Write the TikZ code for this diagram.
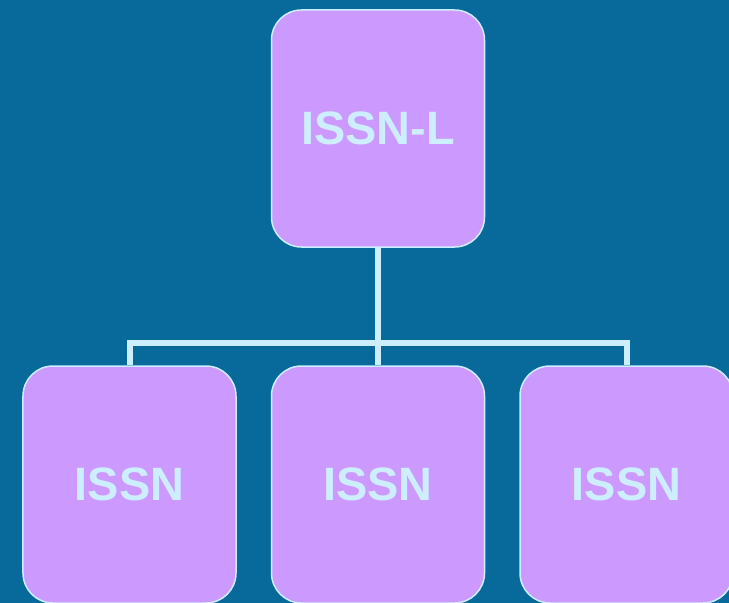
\documentclass[tikz,border=0pt]{standalone}
\usepackage{fontspec}
\setmainfont{Liberation Sans}
\usetikzlibrary{positioning, backgrounds, calc}
\definecolor{bgblue}{HTML}{076A9A}
\definecolor{boxpurple}{HTML}{CC99FF}
\definecolor{paleblue}{HTML}{CCEEFF}
\tikzset{%
  block/.style    = {draw = paleblue, line width = 1.5bp, fill = boxpurple,
    rectangle, rounded corners = 30bp, inner sep = 0pt,
    minimum width = 213bp, minimum height = 237bp,
    text = paleblue, font = \fontsize{47}{47}\selectfont\bfseries},
  link/.style     = {draw = paleblue, line width = 6bp} % Connector
}

\begin{document}
\begin{tikzpicture}[x = 1bp, y = -1bp]
\useasboundingbox[fill = bgblue] (0,0) rectangle (729,603);
%blocks
\draw
	(378,128.5) node [block] (issnl) {ISSN-L}
	(129.5,484.5) node [block] (issn1) {ISSN}
	(378,484.5) node [block] (issn2) {ISSN}
	(626.5,484.5) node [block] (issn3) {ISSN};
%lines
\coordinate (bus) at (378,342.5);
\draw[link] (issnl) -- (issn2);
\draw[link] (issn1.north) |- (bus) -| (issn3.north);
\end{tikzpicture}
\end{document}
